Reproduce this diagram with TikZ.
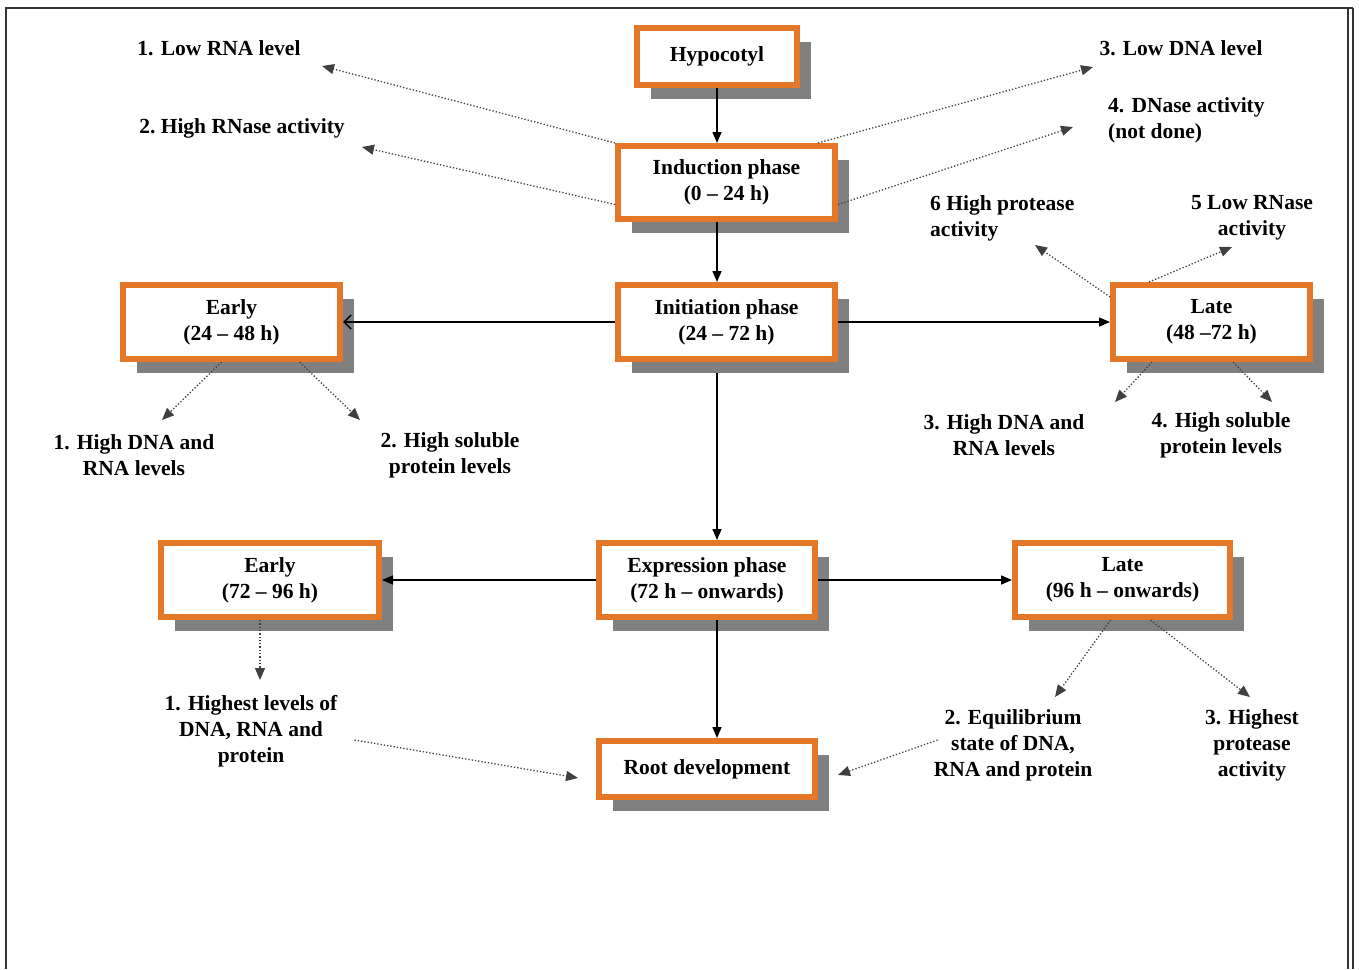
\documentclass[tikz,border=0pt]{standalone}
\usepackage{fontspec}
\setmainfont{Liberation Serif}
\usetikzlibrary{shadows,arrows.meta}
\definecolor{boxorange}{RGB}{229,120,40}
\definecolor{shadowgray}{RGB}{128,128,128}
\pgfdeclarelayer{background}
\pgfsetlayers{background,main}
\begin{document}
\begin{tikzpicture}[x=1pt,y=-1pt,
  txt/.style={font=\bfseries\fontsize{21.5}{26}\selectfont},
  box/.style={txt, rectangle, draw=boxorange, line width=6pt, fill=white,
    align=center, inner sep=0pt,
    drop shadow={shadow xshift=14pt, shadow yshift=-14pt, fill=shadowgray, opacity=1}},
  lbl/.style={txt, align=center, inner sep=0pt},
  mainarrow/.style={line width=1.5pt, -{Triangle[length=11pt,width=9pt]}},
  dotarrow/.style={dotted, line width=1.3pt, draw=black!75, -{Triangle[length=12pt,width=10pt]}}]
\useasboundingbox (0,0) rectangle (1359,969);
% frame
\draw[line width=1.5pt, black!80] (6,969) -- (6,8) -- (1353,8);
\draw[line width=1.5pt, black!80] (1348,8) -- (1348,969);
\draw[line width=1.5pt, black!80] (1353,8) -- (1353,969);

% boxes
\node[box, minimum width=160, minimum height=57] (hyp) at (717,56.5) {Hypocotyl};
\node[box, minimum width=217, minimum height=73] (ind) at (726.5,182.5) {Induction phase\\(0 -- 24 h)};
\node[box, minimum width=217, minimum height=74] (ini) at (726.5,322) {Initiation phase\\(24 -- 72 h)};
\node[box, minimum width=217, minimum height=74] (e1) at (231.5,322) {Early\\(24 -- 48 h)};
\node[box, minimum width=197, minimum height=74] (l1) at (1211.5,322) {Late\\(48 --72 h)};
\node[box, minimum width=216, minimum height=74] (exp) at (707,580) {Expression phase\\(72 h -- onwards)};
\node[box, minimum width=218, minimum height=74] (e2) at (270,580) {Early\\(72 -- 96 h)};
\node[box, minimum width=215, minimum height=74] (l2) at (1122.5,580) {Late\\(96 h -- onwards)};
\node[box, minimum width=216, minimum height=56] (root) at (707,769) {Root development};

% labels
\node[lbl] (t1) at (219,48) {1. Low RNA level};
\node[lbl] (t2) at (242,128) {2.\ High RNase activity};
\node[lbl] (t3) at (1181,48) {3. Low DNA level};
\node[lbl, anchor=west, align=left] (t4) at (1108,120) {4. DNase activity\\(not done)};
\node[lbl, anchor=west, align=left] (t6) at (930,218) {6 High protease\\activity};
\node[lbl] (t5) at (1252,218) {5 Low RNase\\activity};
\node[lbl] (ea1) at (134,455) {1. High DNA and\\RNA levels};
\node[lbl] (ea2) at (450,455) {2. High soluble\\protein levels};
\node[lbl] (la3) at (1004,435) {3. High DNA and\\RNA levels};
\node[lbl] (la4) at (1221,435) {4. High soluble\\protein levels};
\node[lbl] (h1) at (251,731) {1. Highest levels of\\DNA, RNA and\\protein};
\node[lbl] (eq) at (1013,745) {2. Equilibrium\\state of DNA,\\RNA and protein};
\node[lbl] (hp) at (1252,745) {3. Highest\\protease\\activity};

% free ends
\coordinate (c1) at (322,66);
\coordinate (c2) at (362,147);
\coordinate (c3) at (1093,67);
\coordinate (c4) at (1073,127);
\coordinate (c5) at (1035,245);
\coordinate (c6) at (1232,247);
\coordinate (c7) at (1115,402);
\coordinate (c8) at (1272,402);
\coordinate (c9) at (162,420);
\coordinate (c10) at (360,420);
\coordinate (c11) at (260,680);
\coordinate (c13) at (1055,697);
\coordinate (c14) at (1250,697);

\begin{pgfonlayer}{background}
\draw[mainarrow] (ini.south -| hyp.south) -- (exp.north -| hyp.south);
\end{pgfonlayer}
% solid arrows
\draw[mainarrow] (hyp.south) -- (hyp.south |- ind.north);
\draw[mainarrow] (ind.south -| hyp.south) -- (ini.north -| hyp.south);
\draw[mainarrow] (exp.south -| hyp.south) -- (root.north -| hyp.south);
\draw[line width=1.5pt, -{Straight Barb[length=7pt,width=14pt]}] (ini.west) -- (e1.east);
\draw[mainarrow] (ini.east) -- (l1.west);
\draw[mainarrow] (exp.west) -- (e2.east);
\draw[mainarrow] (exp.east) -- (l2.west);

% dotted arrows
\draw[dotarrow] (ind.north west) -- (c1);
\draw[dotarrow] ([yshift=-22pt]ind.west) -- (c2);
\draw[dotarrow] ([xshift=-20pt]ind.north east) -- (c3);
\draw[dotarrow] ([yshift=-22pt]ind.east) -- (c4);
\draw[dotarrow] ([yshift=-15pt]l1.north west) -- (c5);
\draw[dotarrow] ([xshift=39pt]l1.north west) -- (c6);
\draw[dotarrow] ([xshift=42pt]l1.south west) -- (c7);
\draw[dotarrow] ([xshift=-80pt]l1.south east) -- (c8);
\draw[dotarrow] ([xshift=-10pt]e1.south) -- (c9);
\draw[dotarrow] ([xshift=68pt]e1.south) -- (c10);
\draw[dotarrow] ([xshift=-10pt]e2.south) -- (c11);
\draw[dotarrow] ([shift={(17pt,-9pt)}]h1.east) -- ([shift={(-18pt,-9pt)}]root.west);
\draw[dotarrow] ([xshift=-12pt]l2.south) -- (c13);
\draw[dotarrow] ([xshift=28pt]l2.south) -- (c14);
\draw[dotarrow] ([shift={(4pt,5pt)}]eq.west) -- ([shift={(20pt,-6pt)}]root.east);
\end{tikzpicture}
\end{document}
